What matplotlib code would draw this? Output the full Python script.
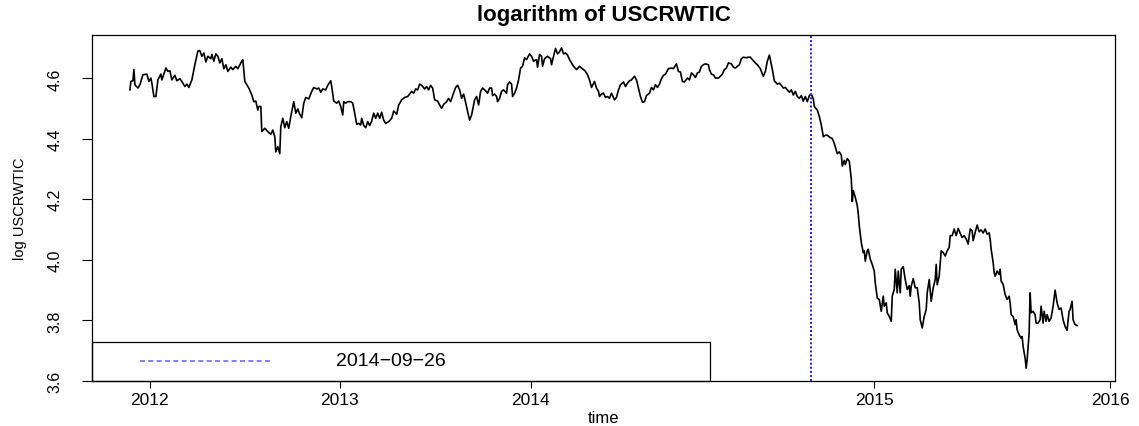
import matplotlib
matplotlib.use("Agg")
import matplotlib.pyplot as plt
from matplotlib.patches import Rectangle
import numpy as np

plt.rcParams['font.family'] = ['Liberation Sans', 'DejaVu Sans']

obs = [0, 1, 3, 4, 5, 8, 10, 13, 17, 19, 21, 22, 24, 26, 28, 31, 32, 36, 38, 40,
       42, 45, 47, 50, 52, 55, 57, 59, 62, 65, 68, 70, 72, 74, 76, 78, 81, 82, 84, 86,
       88, 90, 92, 94, 96, 98, 101, 103, 106, 108, 112, 113, 115, 119, 122, 124, 126, 128, 129, 131,
       132, 135, 138, 141, 143, 145, 146, 148, 150, 151, 153, 155, 157, 159, 161, 164, 166, 168, 170, 172,
       174, 176, 179, 182, 184, 187, 189, 191, 193, 196, 198, 201, 202, 204, 207, 209, 211, 213, 214, 216,
       218, 221, 223, 225, 227, 229, 231, 232, 234, 236, 238, 240, 242, 244, 246, 248, 250, 252, 254, 256,
       259, 262, 264, 267, 269, 272, 275, 278, 282, 284, 286, 288, 290, 292, 295, 297, 299, 301, 303, 305,
       308, 310, 312, 314, 317, 319, 321, 323, 326, 328, 330, 332, 334, 336, 338, 340, 342, 345, 347, 349,
       351, 353, 356, 358, 360, 362, 363, 365, 367, 368, 370, 372, 374, 377, 378, 380, 382, 383, 385, 387,
       389, 391, 393, 395, 397, 400, 402, 404, 407, 408, 410, 412, 413, 415, 418, 421, 422, 424, 426, 428,
       430, 432, 434, 436, 438, 440, 442, 444, 447, 450, 452, 454, 456, 458, 460, 462, 465, 467, 469, 470,
       472, 474, 476, 478, 480, 482, 485, 487, 489, 491, 494, 496, 498, 500, 502, 505, 507, 509, 511, 513,
       515, 517, 520, 522, 524, 526, 528, 530, 532, 534, 536, 539, 542, 544, 547, 549, 551, 553, 555, 558,
       560, 562, 564, 566, 568, 570, 572, 574, 576, 579, 580, 582, 584, 586, 589, 591, 593, 595, 597, 599,
       602, 604, 606, 608, 610, 612, 614, 617, 619, 621, 623, 626, 628, 631, 633, 634, 636, 638, 640, 641,
       643, 645, 648, 650, 652, 654, 656, 658, 660, 662, 664, 666, 668, 670, 672, 674, 676, 678, 680, 682,
       684, 685, 688, 690, 692, 694, 696, 698, 701, 703, 705, 707, 708, 710, 712, 713, 715, 716, 718, 720,
       722, 723, 724, 726, 728, 729, 730, 732, 734, 735, 736, 738, 739, 741, 743, 745, 746, 748, 750, 752,
       754, 755, 757, 758, 760, 762, 763, 765, 766, 768, 769, 771, 772, 774, 776, 778, 780, 781, 782, 784,
       786, 788, 790, 791, 793, 795, 797, 798, 800, 802, 804, 806, 807, 808, 810, 812, 814, 816, 818, 820,
       821, 823, 825, 827, 829, 831, 833, 835, 837, 839, 841, 843, 844, 846, 848, 850, 852, 854, 856, 858,
       860, 861, 862, 864, 865, 866, 868, 870, 871, 872, 874, 876, 878, 880, 881, 882, 884, 886, 887, 888,
       890, 892, 893, 894, 896, 897, 898, 900, 901, 902, 904, 906, 907, 909, 911, 912, 914, 915, 917, 918,
       920, 922, 924, 926, 928, 930, 932, 934, 936, 938, 940, 941, 943, 944, 946, 948]

log_price = [4.562, 4.590, 4.592, 4.629, 4.579, 4.568, 4.579, 4.612, 4.614, 4.590, 4.601, 4.584, 4.540, 4.540, 4.595, 4.614, 4.595, 4.634, 4.623, 4.625,
             4.595, 4.610, 4.592, 4.599, 4.590, 4.573, 4.581, 4.570, 4.595, 4.645, 4.690, 4.692, 4.673, 4.684, 4.654, 4.673, 4.665, 4.679, 4.657, 4.681,
             4.673, 4.651, 4.665, 4.632, 4.645, 4.623, 4.637, 4.629, 4.640, 4.632, 4.657, 4.662, 4.590, 4.568, 4.545, 4.523, 4.525, 4.495, 4.507, 4.507,
             4.424, 4.435, 4.424, 4.415, 4.429, 4.407, 4.357, 4.374, 4.351, 4.440, 4.468, 4.437, 4.457, 4.435, 4.474, 4.523, 4.485, 4.499, 4.481, 4.470,
             4.518, 4.537, 4.532, 4.557, 4.570, 4.565, 4.568, 4.554, 4.565, 4.562, 4.577, 4.592, 4.573, 4.525, 4.518, 4.525, 4.507, 4.479, 4.523, 4.518,
             4.523, 4.523, 4.518, 4.485, 4.448, 4.451, 4.446, 4.468, 4.444, 4.437, 4.457, 4.444, 4.459, 4.485, 4.468, 4.485, 4.468, 4.488, 4.462, 4.451,
             4.457, 4.468, 4.492, 4.481, 4.512, 4.529, 4.537, 4.540, 4.557, 4.551, 4.565, 4.562, 4.581, 4.577, 4.565, 4.573, 4.562, 4.577, 4.568, 4.529,
             4.525, 4.512, 4.501, 4.514, 4.523, 4.534, 4.523, 4.543, 4.570, 4.577, 4.562, 4.534, 4.548, 4.521, 4.490, 4.462, 4.479, 4.529, 4.540, 4.512,
             4.557, 4.568, 4.559, 4.551, 4.568, 4.568, 4.543, 4.548, 4.540, 4.523, 4.534, 4.557, 4.562, 4.551, 4.579, 4.588, 4.581, 4.540, 4.551, 4.568,
             4.595, 4.634, 4.640, 4.668, 4.662, 4.681, 4.673, 4.657, 4.662, 4.637, 4.679, 4.673, 4.640, 4.665, 4.673, 4.665, 4.645, 4.673, 4.699, 4.681,
             4.688, 4.701, 4.681, 4.684, 4.677, 4.662, 4.651, 4.640, 4.629, 4.640, 4.634, 4.629, 4.623, 4.612, 4.595, 4.570, 4.590, 4.568, 4.557, 4.540,
             4.548, 4.551, 4.537, 4.540, 4.534, 4.551, 4.529, 4.537, 4.562, 4.579, 4.588, 4.573, 4.584, 4.592, 4.595, 4.607, 4.595, 4.568, 4.540, 4.521,
             4.523, 4.543, 4.551, 4.570, 4.562, 4.579, 4.570, 4.581, 4.599, 4.610, 4.614, 4.632, 4.634, 4.632, 4.648, 4.623, 4.621, 4.590, 4.588, 4.601,
             4.595, 4.618, 4.612, 4.603, 4.618, 4.621, 4.640, 4.645, 4.648, 4.645, 4.629, 4.614, 4.612, 4.601, 4.601, 4.607, 4.614, 4.629, 4.634, 4.651,
             4.648, 4.637, 4.634, 4.640, 4.645, 4.665, 4.670, 4.668, 4.670, 4.670, 4.662, 4.651, 4.645, 4.632, 4.614, 4.607, 4.623, 4.657, 4.677, 4.662,
             4.629, 4.592, 4.581, 4.584, 4.577, 4.568, 4.570, 4.562, 4.554, 4.562, 4.545, 4.557, 4.540, 4.534, 4.543, 4.525, 4.540, 4.523, 4.543, 4.548,
             4.532, 4.507, 4.495, 4.474, 4.446, 4.407, 4.412, 4.412, 4.404, 4.401, 4.385, 4.362, 4.351, 4.357, 4.346, 4.310, 4.329, 4.315, 4.335, 4.326,
             4.268, 4.193, 4.229, 4.207, 4.179, 4.152, 4.113, 4.058, 4.024, 4.030, 3.996, 4.030, 4.035, 4.002, 3.985, 3.963, 3.924, 3.874, 3.869, 3.830,
             3.880, 3.847, 3.858, 3.825, 3.813, 3.797, 3.880, 3.902, 3.969, 3.891, 3.963, 3.891, 3.969, 3.978, 3.935, 3.902, 3.915, 3.880, 3.913, 3.938,
             3.908, 3.908, 3.858, 3.802, 3.775, 3.813, 3.836, 3.891, 3.935, 3.863, 3.908, 3.935, 3.985, 3.918, 3.946, 4.030, 4.024, 4.013, 4.030, 4.041,
             4.080, 4.080, 4.102, 4.080, 4.104, 4.088, 4.074, 4.080, 4.069, 4.052, 4.102, 4.096, 4.063, 4.091, 4.115, 4.093, 4.099, 4.089, 4.102, 4.085,
             4.089, 4.069, 4.035, 3.991, 3.958, 3.946, 3.963, 3.952, 3.969, 3.930, 3.919, 3.885, 3.869, 3.880, 3.858, 3.819, 3.813, 3.786, 3.802, 3.769,
             3.752, 3.741, 3.747, 3.713, 3.675, 3.642, 3.669, 3.758, 3.891, 3.825, 3.830, 3.819, 3.791, 3.791, 3.802, 3.847, 3.791, 3.830, 3.797, 3.819,
             3.797, 3.808, 3.847, 3.900, 3.858, 3.836, 3.841, 3.802, 3.780, 3.767, 3.830, 3.836, 3.863, 3.802, 3.786, 3.783]

year_ticks = [20, 210, 401, 745, 981]
year_labels = ['2012', '2013', '2014', '2015', '2016']
y_ticks = [3.6, 3.8, 4.0, 4.2, 4.4, 4.6]
y_labels = ['3.6', '3.8', '4.0', '4.2', '4.4', '4.6']
event_obs = 682
event_label = '2014\u221209\u221226'

fig = plt.figure(figsize=(11.39, 4.27), dpi=100)
ax = fig.add_axes([0.0808, 0.1054, 0.8981, 0.8103])

ax.plot(obs, log_price, color='black', lw=1.2)
ax.axvline(event_obs, color='#1a1aff', lw=1.4, linestyle=(0, (1, 1.1)))

# R-style 4% padding
x = np.array(obs)
y = np.array(log_price)
px = 0.04 * (x.max() - x.min())
py = 0.04 * (y.max() - y.min())
ax.set_xlim(x.min() - px, x.max() + px)
ax.set_ylim(y.min() - py, y.max() + py)

ax.set_xticks(year_ticks)
ax.set_xticklabels(year_labels, fontsize=12.5)
ax.set_yticks(y_ticks)
ax.set_yticklabels(y_labels, fontsize=11.5, rotation=90, va='center')
ax.tick_params(axis='x', length=5, width=0.8, pad=3)
ax.tick_params(axis='y', length=7, width=0.8, pad=14)
for s in ax.spines.values():
    s.set_linewidth(0.9)

ax.set_title('logarithm of USCRWTIC', fontsize=16, fontweight='bold', pad=11)
ax.set_xlabel('time', fontsize=12, labelpad=2)
ax.set_ylabel('log USCRWTIC', fontsize=10.5, labelpad=15)

# legend box in bottom-left corner, R style
ax.add_patch(Rectangle((0, 0), 0.604, 0.113, transform=ax.transAxes,
                       fill=False, edgecolor='black', lw=0.9, clip_on=False))
ax.plot([0.047, 0.174], [0.058, 0.058], transform=ax.transAxes,
        color='#6b6bff', lw=1.2, linestyle=(0, (3, 2)))
ax.text(0.2385, 0.058, event_label, transform=ax.transAxes,
        fontsize=14, va='center', ha='left')

fig.savefig('out.png', dpi=100)
